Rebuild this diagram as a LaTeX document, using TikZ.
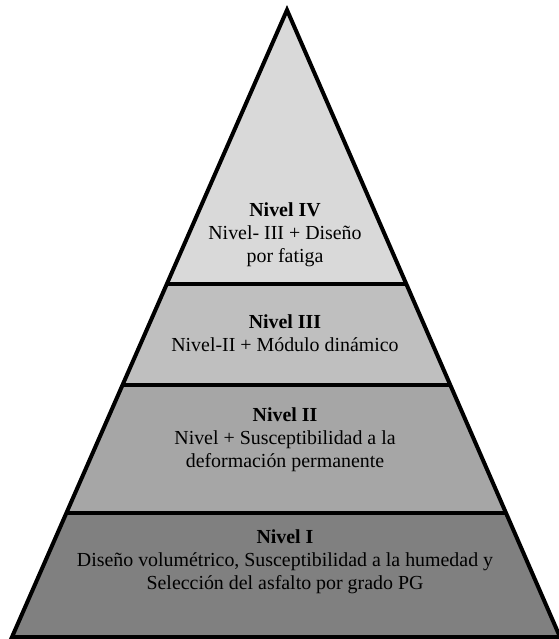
\documentclass[tikz,border=0pt]{standalone}
\usepackage{fontspec}
\setmainfont{LiberationSerif}[Extension=.ttf, UprightFont=*-Regular, BoldFont=*-Bold]
\definecolor{levelfour}{HTML}{D9D9D9}
\definecolor{levelthree}{HTML}{BFBFBF}
\definecolor{leveltwo}{HTML}{A6A6A6}
\definecolor{levelone}{HTML}{808080}

\begin{document}
\begin{tikzpicture}[x=1pt, y=-1pt,
        divider/.style={line width=4.5pt},
        outline/.style={line width=4pt},
        lvltext/.style={align=center, inner sep=0pt, font=\fontsize{19.9}{23}\selectfont}]
        \useasboundingbox (0,0) rectangle (558,639);
        \coordinate (apex) at (287,10);
        \coordinate (baseL) at (12,637);
        \coordinate (baseR) at (560,637);

        \begin{scope}
            \clip (apex) -- (baseR) -- (baseL) -- cycle;
            \fill[levelfour] (0,0) rectangle (558,284);
            \fill[levelthree] (0,284) rectangle (558,385);
            \fill[leveltwo] (0,385) rectangle (558,513);
            \fill[levelone] (0,513) rectangle (558,639);
            \draw[divider] (0,284) -- (558,284);
            \draw[divider] (0,385) -- (558,385);
            \draw[divider] (0,513) -- (558,513);
        \end{scope}
        \draw[outline] (apex) -- (baseR) -- (baseL) -- cycle;

        \node[lvltext] (lvlIV) at (285,235) {\textbf{Nivel IV}\\Nivel- III + Diseño\\por fatiga};
        \node[lvltext] (lvlIII) at (285,333) {\textbf{Nivel III}\\Nivel-II + Módulo dinámico};
        \node[lvltext] (lvlII) at (285,440) {\textbf{Nivel II}\\Nivel + Susceptibilidad a la\\deformación permanente};
        \node[lvltext] (lvlI) at (285,562) {\textbf{Nivel I}\\Diseño volumétrico, Susceptibilidad a la humedad y\\Selección del asfalto por grado PG};
    \end{tikzpicture}
\end{document}
